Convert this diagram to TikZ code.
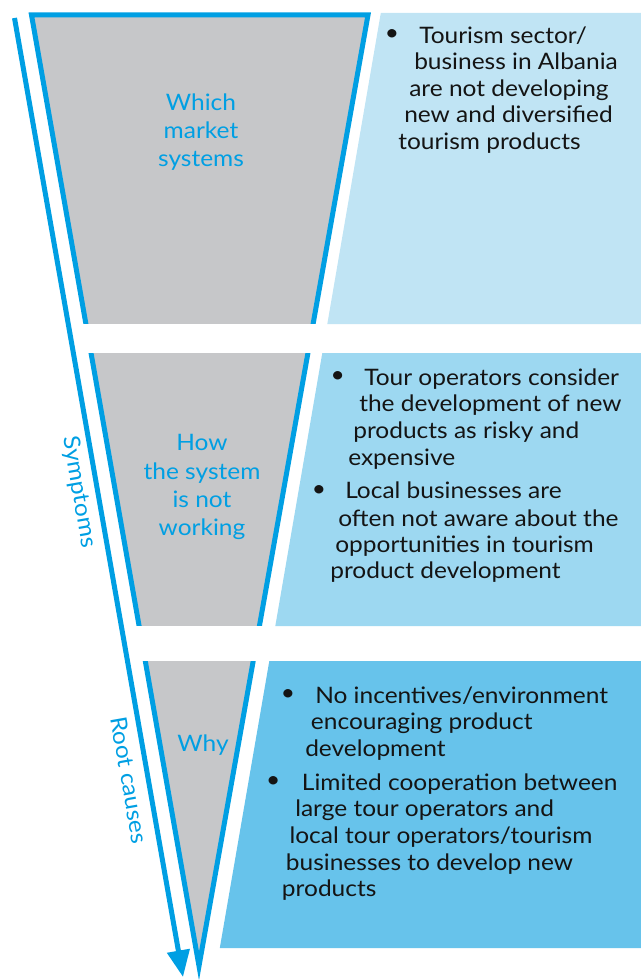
\documentclass[tikz,border=0pt]{standalone}
\usepackage{fontspec}
\setmainfont[FakeStretch=1.08]{Lato}
\usetikzlibrary{arrows.meta}
\definecolor{funnelblue}{HTML}{009FE3}
\definecolor{funnelgray}{HTML}{C6C7C9}
\definecolor{paneA}{HTML}{C0E4F4}
\definecolor{paneB}{HTML}{9DD8F1}
\definecolor{paneC}{HTML}{67C3EB}
\definecolor{ink}{HTML}{141414}
\newcommand{\bodysize}{\fontsize{17}{20}\selectfont}
\begin{document}
\begin{tikzpicture}[x=0.75pt,y=-0.75pt,
  txt/.style={anchor=base west, inner sep=0pt, text=ink, font=\bodysize},
  bul/.style={anchor=center, inner sep=0pt, text=ink, font=\bodysize},
  stage/.style={anchor=base, inner sep=0pt, text=funnelblue, font=\bodysize},
  axislabel/.style={anchor=center, inner sep=0pt, text=funnelblue, rotate=-80, font=\bodysize}]
\useasboundingbox (0,0) rectangle (641,980);

% funnel body
\draw[funnelblue, fill=funnelgray, line width=3.75pt, line join=miter, miter limit=20]
  (31.5,15) -- (368,15) -- (199,966) -- cycle;

% white gaps splitting the funnel into three stages
\fill[white] (0,324) rectangle (641,353);
\fill[white] (0,626) rectangle (641,661);

% description panels
\fill[paneA] (380.8,13) -- (641,13) -- (641,324) -- (327.3,324) -- cycle;
\fill[paneB] (322.3,353) -- (641,353) -- (641,626) -- (275.3,626) -- cycle;
\fill[paneC] (269.3,661) -- (641,661) -- (641,948) -- (219.8,948) -- cycle;

% downward arrow beside the funnel
\coordinate (arrowtop) at (14.5,18);
\coordinate (arrowtip) at (183,977);
\draw[funnelblue, line width=3.75pt, -{Triangle[length=20pt,width=16.5pt]}] (arrowtop) -- (arrowtip);

% axis labels
\node[axislabel] (symptoms) at (79,492) {Symptoms};
\node[axislabel] (rootcauses) at (129.5,780) {Root causes};

% stage labels
\node[stage] (s1a) at (201,111) {Which};
\node[stage] (s1b) at (201,139) {market};
\node[stage] (s1c) at (201,167) {systems};
\node[stage] (s2a) at (202,450) {How};
\node[stage] (s2b) at (202,479) {the system};
\node[stage] (s2c) at (202,507) {is not};
\node[stage] (s2d) at (202,535.5) {working};
\node[stage] (s3a) at (203,751.5) {Why};

% panel 1
\node[bul] (b1) at (392,35) {\textbullet};
\node[txt] (p1a) at (419,43.3) {Tourism sector/};
\node[txt] (p1b) at (414,70) {business in Albania};
\node[txt] (p1c) at (409,96.7) {are not developing};
\node[txt] (p1d) at (404,122.7) {new and diversified};
\node[txt] (p1e) at (398,149.3) {tourism products};

% panel 2
\node[bul] (b2) at (337.7,377) {\textbullet};
\node[txt] (p2a) at (364,385) {Tour operators consider};
\node[txt] (p2b) at (359,411) {the development of new};
\node[txt] (p2c) at (353,438) {products as risky and};
\node[txt] (p2d) at (348,465) {expensive};
\node[bul] (b3) at (319,491) {\textbullet};
\node[txt] (p2e) at (345,498) {Local businesses are};
\node[txt] (p2f) at (338,526) {often not aware about the};
\node[txt] (p2g) at (335,552) {opportunities in tourism};
\node[txt] (p2h) at (330,578) {product development};

% panel 3
\node[bul] (b4) at (288,695) {\textbullet};
\node[txt] (p3a) at (315,703.3) {No incentives/environment};
\node[txt] (p3b) at (310.7,729.3) {encouraging product};
\node[txt] (p3c) at (305,756) {development};
\node[bul] (b5) at (273.3,782) {\textbullet};
\node[txt] (p3d) at (301.7,790) {Limited cooperation between};
\node[txt] (p3e) at (295,816.7) {large tour operators and};
\node[txt] (p3f) at (289.3,843.3) {local tour operators/tourism};
\node[txt] (p3g) at (285.7,870) {businesses to develop new};
\node[txt] (p3h) at (281.7,896.7) {products};
\end{tikzpicture}
\end{document}
